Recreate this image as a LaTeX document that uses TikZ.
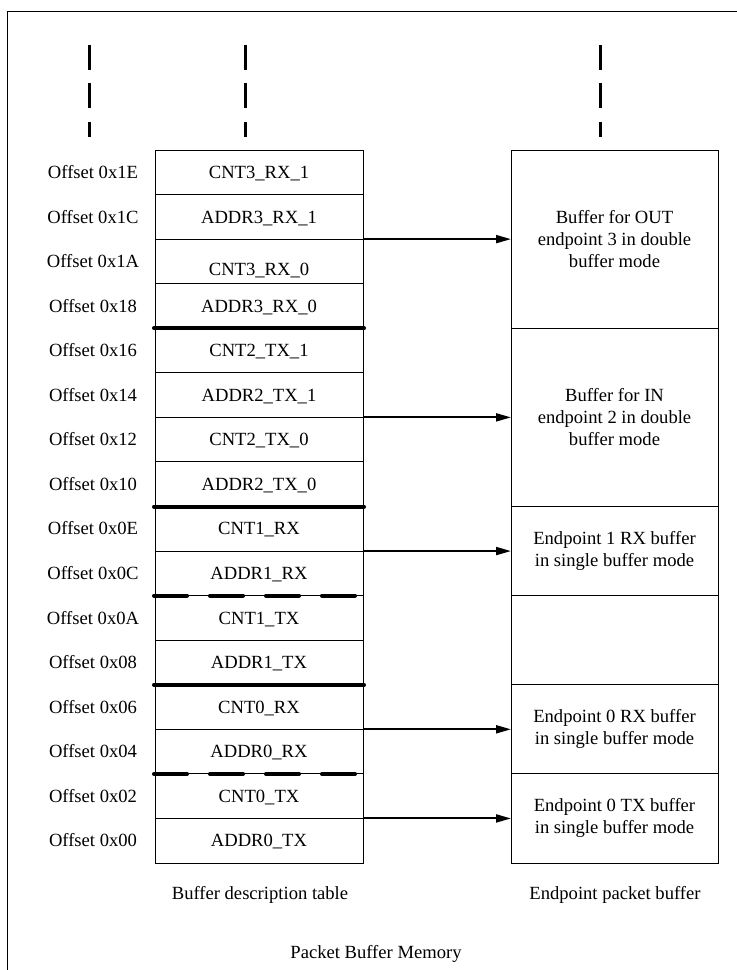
\documentclass[tikz,border=0pt]{standalone}
\usepackage{fontspec}
\setmainfont{Liberation Serif}
\usetikzlibrary{arrows.meta}
\begin{document}
\begin{tikzpicture}[x=0.5pt,y=-0.5pt,
 every node/.style={font=\fontsize{9.3}{11}\selectfont, inner sep=0pt},
 cell/.style={draw, line width=0.5pt, minimum width=104pt, minimum height=22.28pt, text height=6.2pt, text depth=0pt, outer sep=0pt},
 lbl/.style={text height=6.2pt, text depth=0pt},
 bufbox/.style={draw, line width=0.5pt, minimum width=103.5pt, align=center, outer sep=0pt},
 sepline/.style={line width=2pt, line cap=round},
 dsepline/.style={line width=2pt, line cap=round, dash pattern=on 16.5pt off 11.5pt},
 arr/.style={line width=1pt, -{Triangle[length=7.5pt,width=4pt]}},
 vdash/.style={line width=1.5pt},
 frame/.style={line width=0.5pt}
]
\useasboundingbox (0,0) rectangle (737,970);
% outer frame (partly visible)
\draw[frame] (7,975) -- (7,11) -- (742,11);
% vertical continuation marks
\foreach \x in {89,245,600}{
  \draw[vdash] (\x,45) -- (\x,70);
  \draw[vdash] (\x,83) -- (\x,108);
  \draw[vdash] (\x,122) -- (\x,137);
}
% buffer description table
\foreach \n/\t/\o [count=\i from 0] in {
  r0/CNT3\_RX\_1/1E, r1/ADDR3\_RX\_1/1C, r2/\raisebox{-4pt}{CNT3\_RX\_0}/1A, r3/ADDR3\_RX\_0/18,
  r4/CNT2\_TX\_1/16, r5/ADDR2\_TX\_1/14, r6/CNT2\_TX\_0/12, r7/ADDR2\_TX\_0/10,
  r8/CNT1\_RX/0E, r9/ADDR1\_RX/0C, r10/CNT1\_TX/0A, r11/ADDR1\_TX/08,
  r12/CNT0\_RX/06, r13/ADDR0\_RX/04, r14/CNT0\_TX/02, r15/ADDR0\_TX/00}{
  \node[cell] (\n) at (259,{150+44.5625*(\i+0.5)}) {\t};
  \node[lbl] (o\n) at (93,{150+44.5625*(\i+0.5)}) {Offset 0x\o};
}
% separators
\foreach \r in {r3,r7,r11}{
  \draw[sepline] ([xshift=-0.5pt]\r.south west) -- ([xshift=0.5pt]\r.south east);
}
\foreach \r in {r9,r13}{
  \draw[dsepline] ([xshift=-0.5pt]\r.south west) -- ([xshift=0.5pt]\r.south east);
}
% endpoint packet buffer
\node[bufbox, minimum height=89.125pt] (b3) at (614.5,{150+44.5625*2}) {Buffer for OUT\\endpoint 3 in double\\buffer mode};
\node[bufbox, minimum height=89.125pt] (b2) at (614.5,{150+44.5625*6}) {Buffer for IN\\endpoint 2 in double\\buffer mode};
\node[bufbox, minimum height=44.5625pt] (b1) at (614.5,{150+44.5625*9}) {Endpoint 1 RX buffer\\in single buffer mode};
\node[bufbox, minimum height=44.5625pt] (be) at (614.5,{150+44.5625*11}) {};
\node[bufbox, minimum height=44.5625pt] (b0r) at (614.5,{150+44.5625*13}) {Endpoint 0 RX buffer\\in single buffer mode};
\node[bufbox, minimum height=44.5625pt] (b0t) at (614.5,{150+44.5625*15}) {Endpoint 0 TX buffer\\in single buffer mode};
% pointers
\draw[arr] (r1.south east) -- (r1.south east -| b3.west);
\draw[arr] (r5.south east) -- (r5.south east -| b2.west);
\draw[arr] (r8.south east) -- (r8.south east -| b1.west);
\draw[arr] (r12.south east) -- (r12.south east -| b0r.west);
\draw[arr] (r14.south east) -- (r14.south east -| b0t.west);
% captions
\node[lbl] (capt) at (260,893) {Buffer description table};
\node[lbl] (capb) at (615,893) {Endpoint packet buffer};
\node[lbl] (capm) at (376,952) {Packet Buffer Memory};
\end{tikzpicture}
\end{document}
